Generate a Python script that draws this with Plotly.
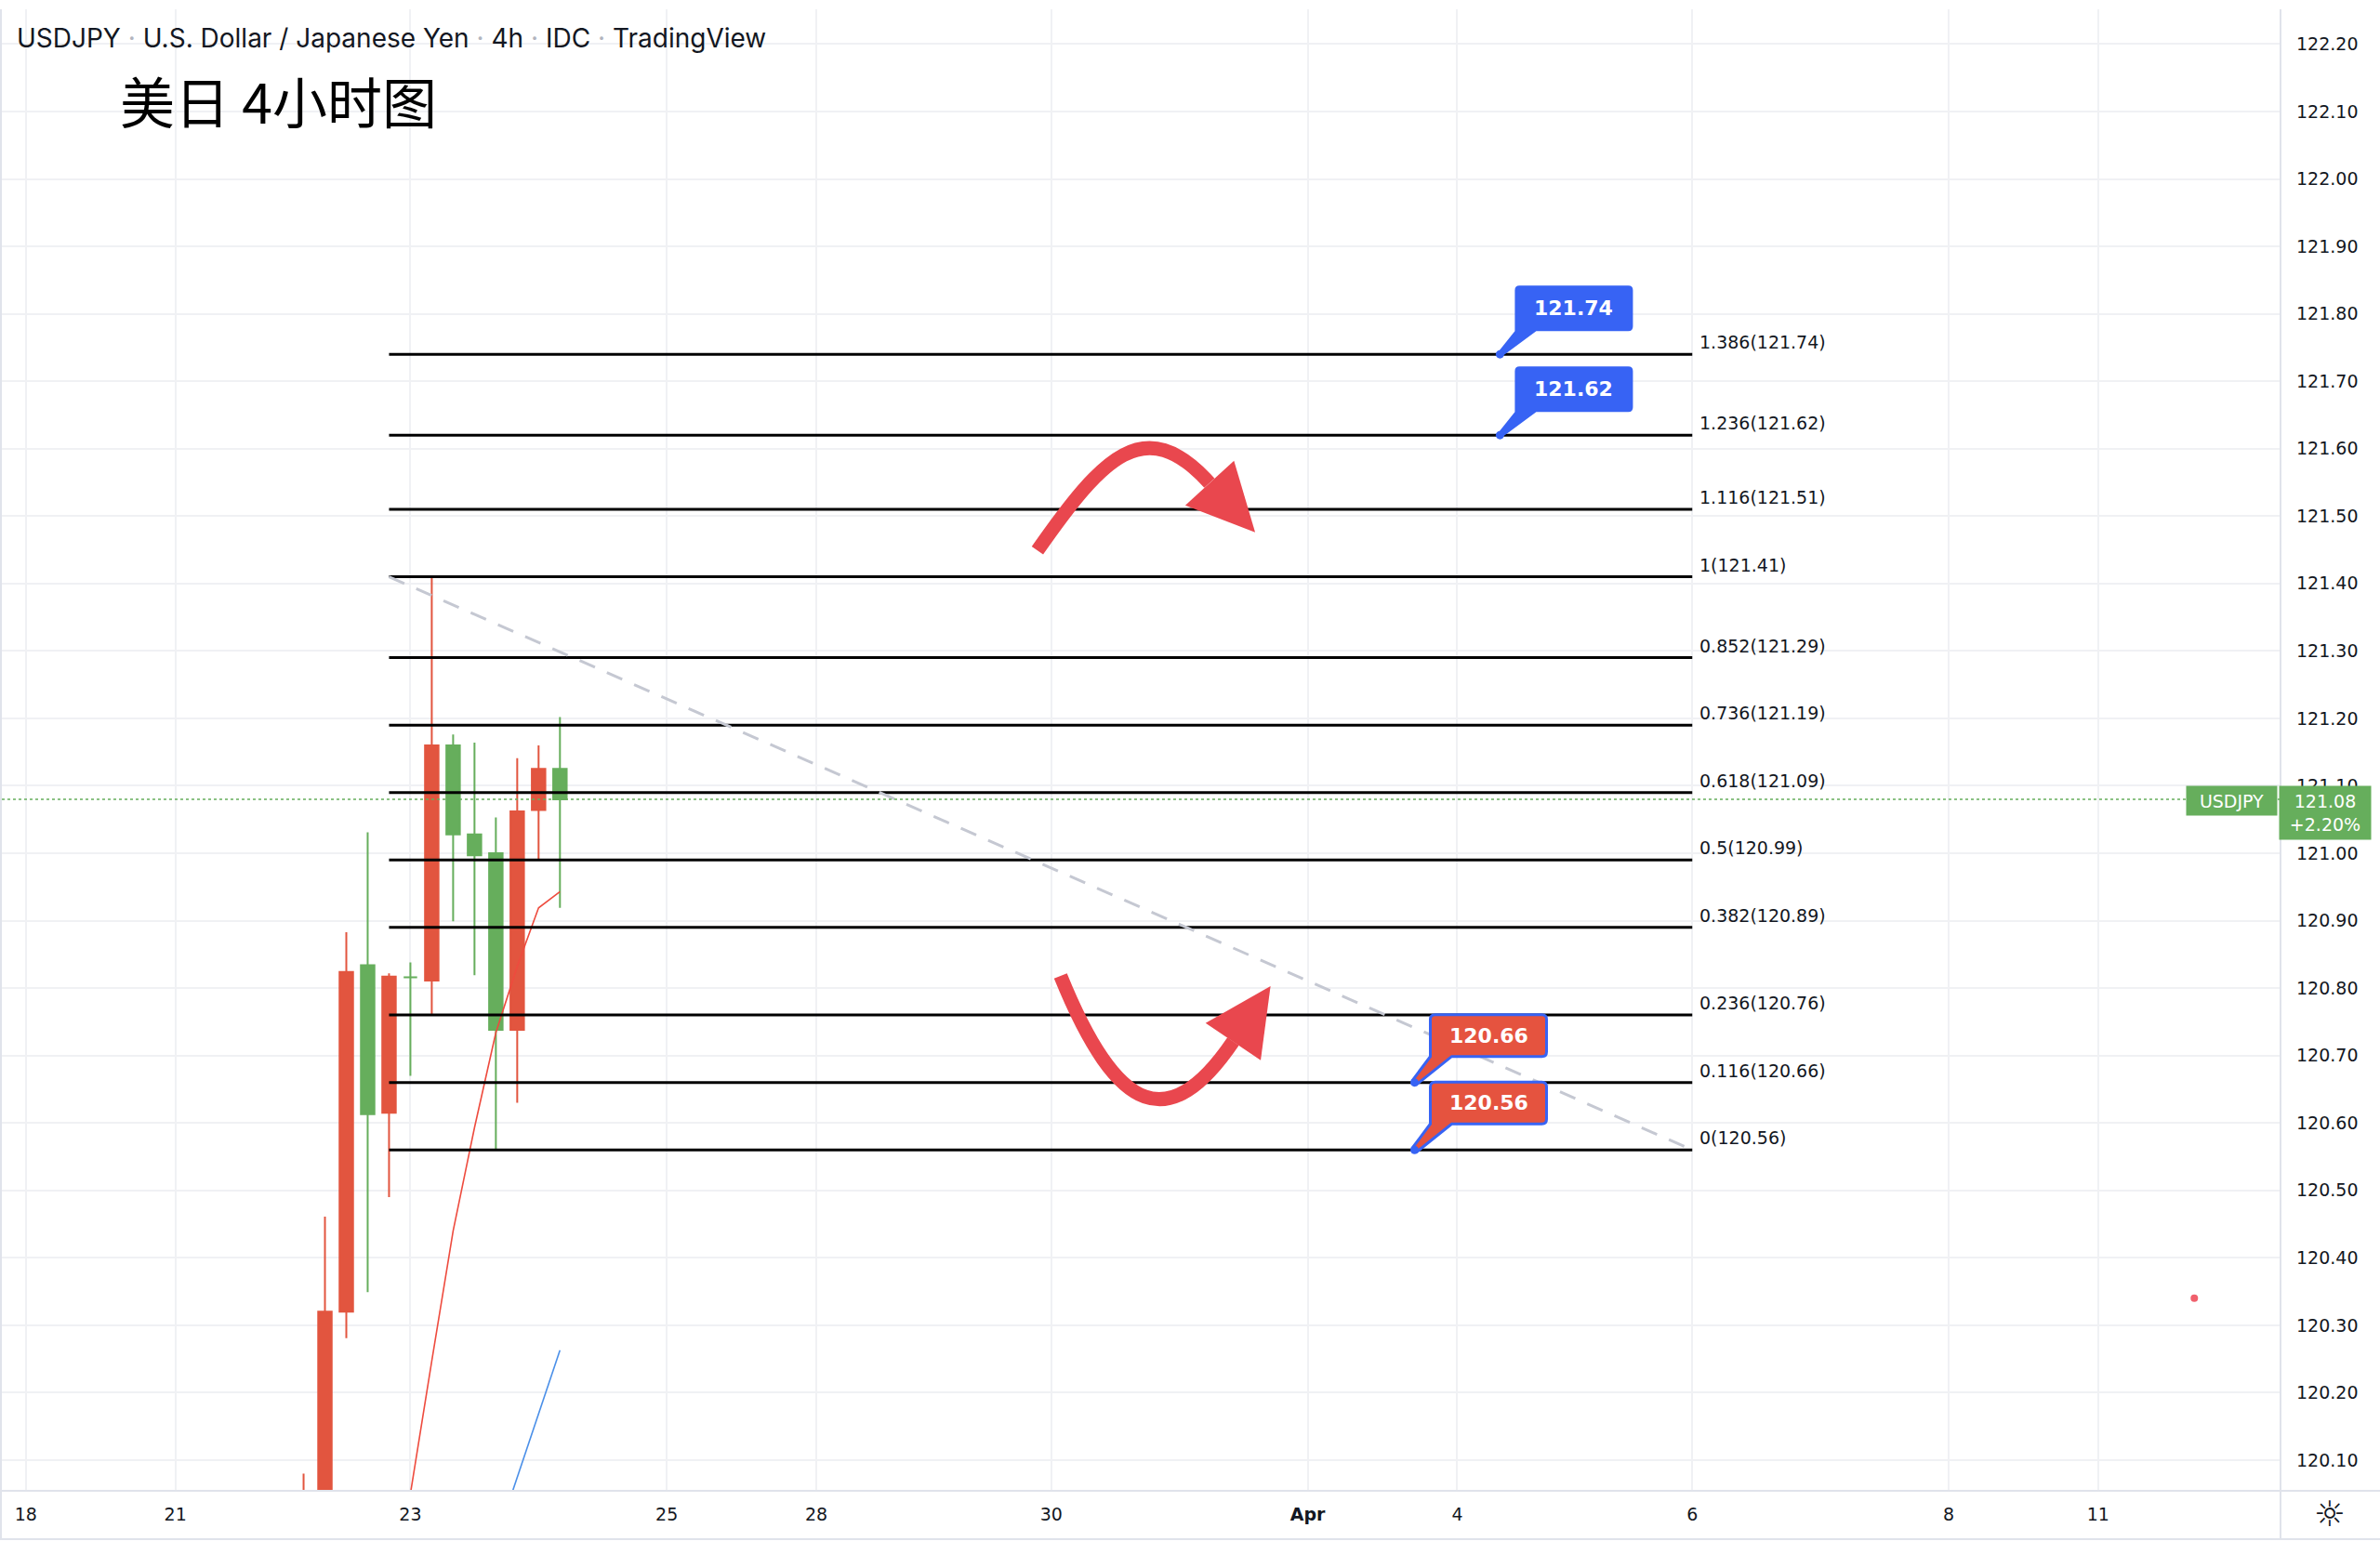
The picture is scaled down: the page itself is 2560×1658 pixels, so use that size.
import plotly.graph_objects as go

# ---------------- USDJPY 4h candles (x = bar number) ----------------
bar_index = [-1, 0, 1, 2, 3, 4, 5, 6, 7, 8, 9, 10, 11]
opens = [119.90, 120.03, 120.32, 120.834, 120.615, 120.816, 120.811, 121.16, 121.028, 121.00, 120.738, 121.064, 121.125]
highs = [120.08, 120.461, 120.883, 121.031, 120.822, 120.838, 121.41, 121.176, 121.164, 121.053, 121.141, 121.16, 121.202]
lows = [119.85, 119.98, 120.281, 120.349, 120.49, 120.67, 120.76, 120.899, 120.819, 120.56, 120.63, 120.989, 120.919]
closes = [120.03, 120.32, 120.824, 120.613, 120.817, 120.816, 121.16, 121.028, 120.997, 120.738, 121.062, 121.125, 121.08]

# moving averages
ma_fast_index = [3, 4, 5, 6, 7, 8, 9, 10, 11]
ma_fast = [119.86, 120.05, 120.247, 120.44, 120.593, 120.734, 120.832, 120.919, 120.943]
ma_slow_index = [8, 9, 10, 11]
ma_slow = [119.98, 120.074, 120.167, 120.263]

# fibonacci extension / retracement
fib_ratios = [1.386, 1.236, 1.116, 1, 0.852, 0.736, 0.618, 0.5, 0.382, 0.236, 0.116, 0]
fib_prices = [121.74, 121.62, 121.51, 121.41, 121.29, 121.19, 121.09, 120.99, 120.89, 120.76, 120.66, 120.56]
fib_start_bar = 3
fib_end_bar = 64

# price targets
upper_targets = [121.74, 121.62]
upper_target_bar = 55
lower_targets = [120.66, 120.56]
lower_target_bar = 51

# axis ticks
date_tick_index = [-14, -7, 4, 16, 23, 34, 46, 53, 64, 76, 83]
date_tick_labels = ["18", "21", "23", "25", "28", "30", "<b>Apr</b>", "4", "6", "8", "11"]
price_ticks = [120.10, 120.20, 120.30, 120.40, 120.50, 120.60, 120.70, 120.80, 120.90, 121.00, 121.10,
               121.20, 121.30, 121.40, 121.50, 121.60, 121.70, 121.80, 121.90, 122.00, 122.10, 122.20]

symbol = "USDJPY"
last_price = 121.08
last_change = "+2.20%"

signal_index = [87.5]
signal_price = [120.34]

# hand-drawn forecast arrows, (bar, price) control points
up_arrow_curve = [(33.35, 121.449), (36.40, 121.587), (38.36, 121.655), (41.40, 121.549)]
up_arrow_head = [(40.27, 121.516), (43.54, 121.476), (42.55, 121.582)]
down_arrow_curve = [(34.43, 120.818), (37.13, 120.607), (39.57, 120.584), (42.51, 120.721)]
down_arrow_head = [(41.22, 120.748), (44.26, 120.803), (43.80, 120.693)]

# ---------------- styling ----------------
W, H = 2560, 1658
PL, PR, PT, PB = 2, 2453, 10, 1604   # plot area in pixels
UP = "#E2553F"
DOWN = "#66AE5C"
TEXT = "#131722"
GRID = "#F0F1F4"
FRAME = "#E0E3EB"
BLUE = "#3763F4"
LABEL_RED = "#E5533F"
ARROW = "#E9474E"
AXIS_FONT = dict(family="DejaVu Sans", size=19, color=TEXT)


def px(x):
    return (x - PL) / (PR - PL)


def py(y):
    return (PB - y) / (PB - PT)


fig = go.Figure()

fig.add_trace(go.Candlestick(
    x=bar_index, open=opens, high=highs, low=lows, close=closes,
    increasing=dict(line=dict(color=UP, width=2), fillcolor=UP),
    decreasing=dict(line=dict(color=DOWN, width=2), fillcolor=DOWN),
    whiskerwidth=0, hoverinfo="skip",
))

fig.add_trace(go.Scatter(x=ma_fast_index, y=ma_fast, mode="lines",
                         line=dict(color="#EE4B3E", width=1.6), hoverinfo="skip"))
fig.add_trace(go.Scatter(x=ma_slow_index, y=ma_slow, mode="lines",
                         line=dict(color="#4A8FE8", width=1.6), hoverinfo="skip"))

# fib levels
for r, p in zip(fib_ratios, fib_prices):
    fig.add_trace(go.Scatter(x=[fib_start_bar, fib_end_bar], y=[p, p], mode="lines",
                             line=dict(color="#000000", width=3), hoverinfo="skip"))
    fig.add_annotation(x=fib_end_bar, y=p, xref="x", yref="y", text=f"{r:g}({p:.2f})",
                       showarrow=False, xanchor="left", yanchor="middle", xshift=6, yshift=13,
                       font=dict(family="DejaVu Sans", size=19, color=TEXT))

# trend line between the two fib anchors
fig.add_trace(go.Scatter(x=[fib_start_bar, fib_end_bar],
                         y=[fib_prices[fib_ratios.index(1)], fib_prices[fib_ratios.index(0)]],
                         mode="lines", line=dict(color="#C5C8D2", width=3, dash="18px,14px"),
                         hoverinfo="skip"))

fig.add_trace(go.Scatter(x=signal_index, y=signal_price, mode="markers",
                         marker=dict(color="#F0606C", size=8), hoverinfo="skip"))

shapes = []

# last price line
shapes.append(dict(type="line", xref="paper", yref="y", x0=0, x1=1, y0=last_price, y1=last_price,
                   line=dict(color=DOWN, width=1.5, dash="dot"), layer="above"))


def curve_path(pts):
    (x0, y0), (x1, y1), (x2, y2), (x3, y3) = pts
    return f"M {x0},{y0} C {x1},{y1} {x2},{y2} {x3},{y3}"


def tri_path(pts):
    (a, b), (c, d), (e, f) = pts
    return f"M {a},{b} L {c},{d} L {e},{f} Z"


for curve, head in ((up_arrow_curve, up_arrow_head), (down_arrow_curve, down_arrow_head)):
    shapes.append(dict(type="path", xref="x", yref="y", path=curve_path(curve),
                       line=dict(color=ARROW, width=15), fillcolor="rgba(0,0,0,0)", layer="above"))
    shapes.append(dict(type="path", xref="x", yref="y", path=tri_path(head),
                       line=dict(width=0), fillcolor=ARROW, layer="above"))


def bubble_path(x0, x1, y0, y1, r=5, base=23):
    # rounded label box up-right of the anchor point with a wedge pointing at it
    return (f"M {x0},{y1 - r} Q {x0},{y1} {x0 + r},{y1} L {x1 - r},{y1} Q {x1},{y1} {x1},{y1 - r} "
            f"L {x1},{y0 + r} Q {x1},{y0} {x1 - r},{y0} L {x0 + base},{y0} L 2.5,-2 L -2,2.5 L {x0},{y0} Z")


def add_callout(bar, value, fill, outline, box):
    x0, x1, y0, y1 = box
    shapes.append(dict(type="path", xref="x", yref="y", xsizemode="pixel", ysizemode="pixel",
                       xanchor=bar, yanchor=value, path=bubble_path(x0, x1, y0, y1),
                       fillcolor=fill, line=dict(color=outline, width=3 if outline != fill else 0),
                       layer="above"))
    shapes.append(dict(type="circle", xref="x", yref="y", xsizemode="pixel", ysizemode="pixel",
                       xanchor=bar, yanchor=value, x0=-4.5, x1=4.5, y0=-4.5, y1=4.5,
                       fillcolor=BLUE, line=dict(width=0), layer="above"))
    fig.add_annotation(x=bar, y=value, xref="x", yref="y", text=f"<b>{value:.2f}</b>",
                       showarrow=False, xanchor="center", yanchor="middle",
                       xshift=(x0 + x1) / 2, yshift=(y0 + y1) / 2,
                       font=dict(family="DejaVu Sans", size=22, color="white"))


for v in upper_targets:
    add_callout(upper_target_bar, v, BLUE, BLUE, (16, 143, 25, 74))
for v in lower_targets:
    add_callout(lower_target_bar, v, LABEL_RED, BLUE, (17, 142, 28, 73))

# chart frame
shapes += [
    dict(type="line", xref="paper", yref="paper", x0=px(1), x1=px(1), y0=py(PT), y1=py(1656),
         line=dict(color=FRAME, width=2)),
    dict(type="line", xref="paper", yref="paper", x0=px(PR), x1=px(PR), y0=py(PT), y1=py(1656),
         line=dict(color=FRAME, width=2)),
    dict(type="line", xref="paper", yref="paper", x0=px(0), x1=px(W), y0=py(PB), y1=py(PB),
         line=dict(color=FRAME, width=2)),
    dict(type="line", xref="paper", yref="paper", x0=px(0), x1=px(W), y0=py(1656), y1=py(1656),
         line=dict(color=FRAME, width=2)),
]

# header
sep = '<span style="color:#B2B5BE"> · </span>'
fig.add_annotation(xref="paper", yref="paper", x=px(16), y=py(41), xanchor="left", yanchor="middle",
                   showarrow=False,
                   text=sep.join([symbol, "U.S. Dollar / Japanese Yen", "4h", "IDC", "TradingView"]),
                   font=dict(family="Inter", size=28, color=TEXT))
fig.add_annotation(xref="paper", yref="paper", x=px(127), y=py(107), xanchor="left", yanchor="middle",
                   showarrow=False, text="美日 4小时图",
                   font=dict(family="Noto Sans CJK SC", size=59, color="#000000"))

# last price badges
fig.add_annotation(xref="paper", yref="paper", x=px(2400.7), y=py(861.2), xanchor="center",
                   yanchor="middle", showarrow=False, text=symbol, width=97, height=31,
                   bgcolor=DOWN, borderpad=0, font=dict(family="DejaVu Sans", size=19, color="white"))
fig.add_annotation(xref="paper", yref="paper", x=px(2501), y=py(874.2), xanchor="center",
                   yanchor="middle", showarrow=False, text=f"{last_price:.2f}<br>{last_change}",
                   width=98, height=57, bgcolor=DOWN, borderpad=0,
                   font=dict(family="DejaVu Sans", size=19, color="white"))

# settings glyph
fig.add_annotation(xref="paper", yref="paper", x=px(2506), y=py(1629), xanchor="center",
                   yanchor="middle", showarrow=False, text="☼",
                   font=dict(family="DejaVu Sans", size=38, color=TEXT))

x_lo = 11 + (PL - 602.3) / 22.98
x_hi = 11 + (PR - 602.3) / 22.98
y_hi = 122.2 + (47.4 - PT) / 725.5
y_lo = 122.2 - (PB - 47.4) / 725.5

fig.update_layout(
    width=W, height=H,
    margin=dict(l=PL, r=W - PR, t=PT, b=H - PB, pad=0),
    paper_bgcolor="white", plot_bgcolor="white",
    showlegend=False, hovermode=False,
    boxgap=0.37, boxgroupgap=0,
    shapes=shapes,
    xaxis=dict(range=[x_lo, x_hi], tickvals=date_tick_index, ticktext=date_tick_labels,
               showgrid=True, gridcolor=GRID, gridwidth=1.5, zeroline=False, showline=False,
               ticks="", ticklabelstandoff=12, tickfont=AXIS_FONT,
               rangeslider=dict(visible=False), fixedrange=True),
    yaxis=dict(range=[y_lo, y_hi], side="right", tickvals=price_ticks,
               ticktext=[f"{v:.2f}" for v in price_ticks],
               showgrid=True, gridcolor=GRID, gridwidth=1.5, zeroline=False, showline=False,
               ticks="", ticklabelstandoff=16, tickfont=AXIS_FONT, fixedrange=True),
)

fig.write_html("out.html")
